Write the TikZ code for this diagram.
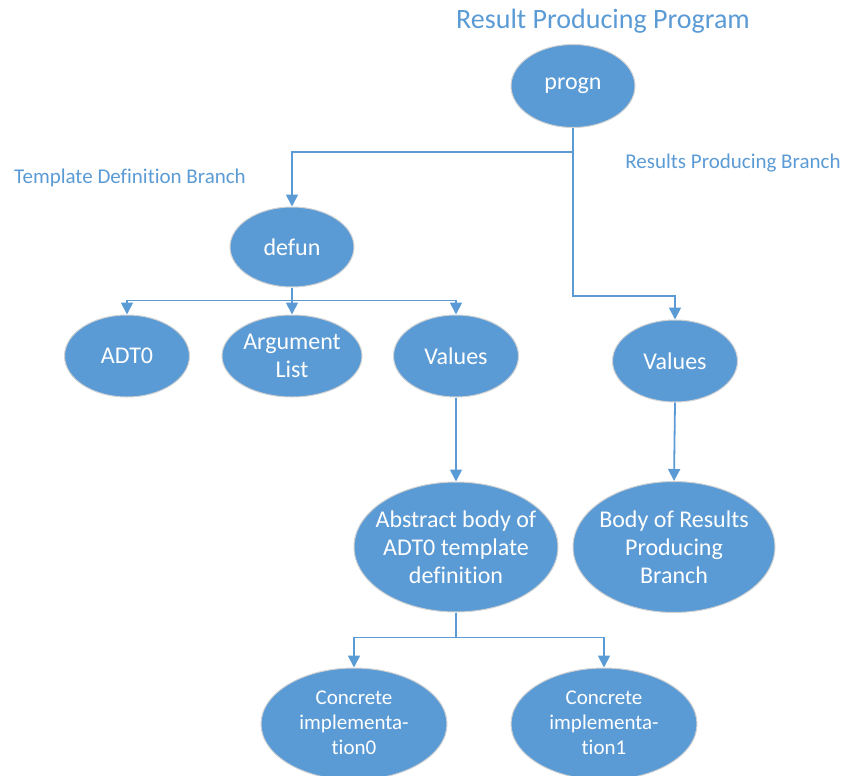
\documentclass[tikz,border=0pt]{standalone}
\usepackage{fontspec}
\setmainfont{Carlito}[Ligatures={NoCommon}]
\usepackage{xcolor}
\usetikzlibrary{shapes.geometric}
\usetikzlibrary{arrows.meta}
\usetikzlibrary{calc}
\definecolor{nodeblue}{HTML}{5B9BD5}
\newcommand{\tightlines}[1]{\makebox[0pt]{\begin{tabular}{@{}c@{}}#1\end{tabular}}}

\begin{document}
\begin{tikzpicture}[x=1pt, y=-1pt,
	every node/.style={ellipse, draw=gray!35, line width=1pt, fill=nodeblue, text=white, inner sep=0pt, align=center, font=\fontsize{24}{28}\selectfont},
	lbl/.style={draw=none, fill=none, rectangle, text=nodeblue, font=\fontsize{21}{24}\selectfont},
	arr/.style={-{Triangle[width=12pt,length=12pt]}, draw=nodeblue, line width=1.8pt}]
				\useasboundingbox (0,0) rectangle (843,776);
				\node[lbl, font=\fontsize{28}{32}\selectfont] (title) at (603,21) {Result Producing Program};
				\node[lbl] (tdb) at (130,178) {Template Definition Branch};
				\node[lbl] (rpb) at (733,163) {Results Producing Branch};
				\node[minimum width=124pt, minimum height=83pt] (progn) at (573,86) {progn};
				\node[minimum width=124pt, minimum height=80pt] (defun) at (292,247) {defun};
				\node[minimum width=125pt, minimum height=82pt] (adt) at (127,356) {ADT0};
				\node[minimum width=140pt, minimum height=82pt] (arglist) at (292,356) {Argument\\List};
				\node[minimum width=125pt, minimum height=82pt] (valuesl) at (456,356) {Values};
				\node[minimum width=125pt, minimum height=82pt] (valuesr) at (675,361) {Values};
				\node[minimum width=204pt, minimum height=130pt] (abstract) at (456,547) {\tightlines{\raisebox{-3pt}{Abstract body of}\\\raisebox{-3pt}{ADT0 template}\\\raisebox{-3pt}{definition}}};
				\node[minimum width=202pt, minimum height=131pt] (body) at (674,547) {\tightlines{\raisebox{-3pt}{Body of Results}\\\raisebox{-3pt}{Producing}\\\raisebox{-3pt}{Branch}}};
				\node[minimum width=186pt, minimum height=112pt, font=\fontsize{21}{25}\selectfont] (conc0) at (354,724) {\tightlines{Concrete\\implementa-\\tion0}};
				\node[minimum width=186pt, minimum height=112pt, font=\fontsize{21}{25}\selectfont] (conc1) at (604,724) {\tightlines{Concrete\\implementa-\\tion1}};
				% tree edges
				\draw[arr] (progn.south) -- ++(0,24) -| (defun.north);
				\draw[arr] (progn.south) -- ++(0,168) -| (valuesr.north);
				\draw[arr] (defun.south) -- ++(0,13) -| (adt.north);
				\draw[arr] (defun.south) -- (arglist.north);
				\draw[arr] (defun.south) -- ++(0,13) -| (valuesl.north);
				\draw[arr] (valuesl.south) -- (abstract.north);
				\draw[arr] (valuesr.south) -- (body.north);
				\draw[arr] (abstract.south) -- ++(0,25) -| (conc0.north);
				\draw[arr] (abstract.south) -- ++(0,25) -| (conc1.north);
		\end{tikzpicture}
\end{document}
